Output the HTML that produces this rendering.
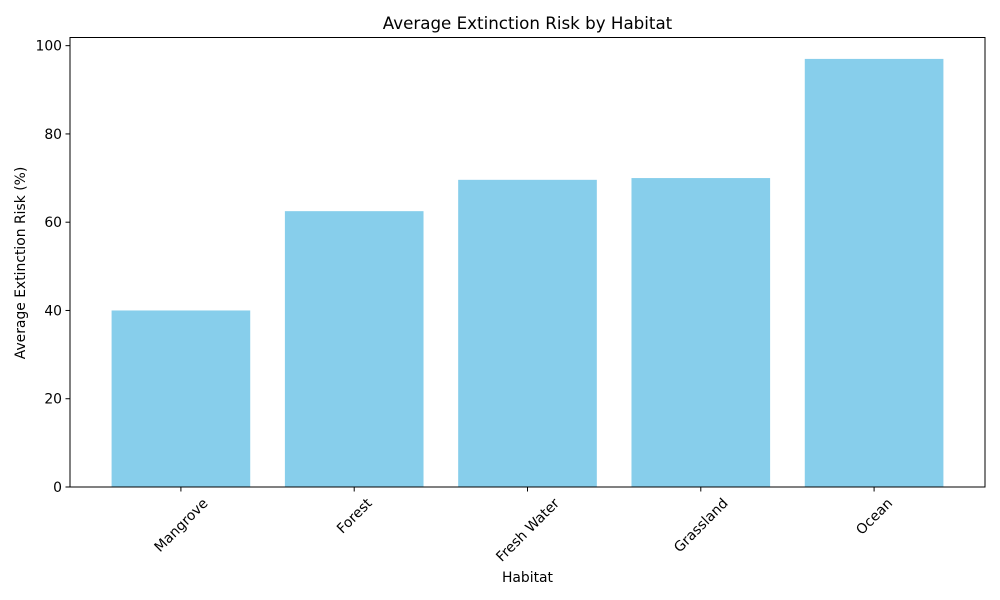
<!DOCTYPE html>
<html><head><meta charset="utf-8"><style>
body{margin:0;background:#fff}
svg{display:block;font-family:"DejaVu Sans","Liberation Sans",sans-serif}
</style></head><body>
<svg id="chart" width="1000" height="600">
<rect width="1000" height="600" fill="#fff"/>
<text x="527.5" y="29" font-size="16.7" text-anchor="middle">Average Extinction Risk by Habitat</text>
<text x="527.5" y="582" font-size="13.9" text-anchor="middle">Habitat</text>
<text transform="translate(25,263) rotate(-90)" font-size="13.9" text-anchor="middle">Average Extinction Risk (%)</text>
<g id="bars"></g><g id="yticks"></g><g id="xticks"></g>
<rect x="70" y="37.5" width="915" height="449.5" fill="none" stroke="#000" stroke-width="1"/>
</svg>
<script>
const categories=["Mangrove","Forest","Fresh Water","Grassland","Ocean"];
const values=[40,62.5,69.6,70,97];
const yTicks=[0,20,40,60,80,100];
const NS="http://www.w3.org/2000/svg";
const L=70,R=985,T=37.5,B=487;
const xmin=-0.64,xmax=4.64,ymin=0,ymax=101.85;
const xs=v=>L+(v-xmin)/(xmax-xmin)*(R-L);
const ys=v=>B-(v-ymin)/(ymax-ymin)*(B-T);
function mk(tag,attrs,parent){const e=document.createElementNS(NS,tag);for(const k in attrs)e.setAttribute(k,attrs[k]);parent.appendChild(e);return e;}
const bars=document.getElementById('bars'),yt=document.getElementById('yticks'),xt=document.getElementById('xticks');
categories.forEach((c,i)=>{
 const x0=xs(i-0.4),x1=xs(i+0.4);
 const r=mk('rect',{x:x0,y:ys(values[i]),width:x1-x0,height:ys(0)-ys(values[i]),fill:'#87ceeb'},bars);
 
 
 const tk=mk('line',{x1:xs(i),x2:xs(i),y1:B,y2:B+4.5,stroke:'#000'},xt);
 
 
 const t=mk('text',{'font-size':13.9,'text-anchor':'middle',x:0,y:4.8},xt);
 t.textContent=c;
 
 
 const w=t.getComputedTextLength(),h=16;
 const bh=(w+h)*Math.SQRT1_2;
 const cy=B+8+bh/2;
 t.setAttribute('transform','translate('+xs(i)+','+cy+') rotate(-45)');
});
yTicks.forEach(v=>{
 const y=ys(v);
 const tk=mk('line',{x1:L-4.5,x2:L,y1:y,y2:y,stroke:'#000'},yt);
 
 
 const t=mk('text',{x:L-8,y:y+5,'font-size':13.9,'text-anchor':'end'},yt);
 t.textContent=v;
 
 
});
</script>
</body></html>
